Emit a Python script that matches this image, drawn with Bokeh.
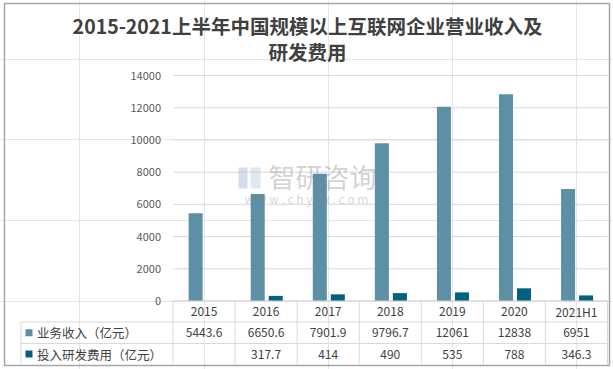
from bokeh.plotting import figure
from bokeh.models import Range1d, Label
from bokeh.embed import file_html
from bokeh.resources import INLINE
from bokeh.core.properties import value

# ---------------- data ----------------
categories = ["2015", "2016", "2017", "2018", "2019", "2020", "2021H1"]
revenue = [5443.6, 6650.6, 7901.9, 9796.7, 12061, 12838, 6951]
rnd_cost = [None, 317.7, 414, 490, 535, 788, 346.3]
series_names = ["业务收入（亿元）", "投入研发费用（亿元）"]
y_ticks = [0, 2000, 4000, 6000, 8000, 10000, 12000, 14000]
title_lines = ["2015-2021上半年中国规模以上互联网企业营业收入及", "研发费用"]

# ---------------- layout constants (canvas px) ----------------
W, H = 613, 369
col0_left = 172.5
col_w = (607.0 - 172.5) / 7
label_left = 20.5
zero_y = 300.5
top_y = 75.0
px_per_unit = (zero_y - top_y) / 14000.0
row_bounds = [300.5, 321.5, 343.0, 364.0]
row_centers = [(row_bounds[i] + row_bounds[i + 1]) / 2 for i in range(3)]

C_REV = "#5d90a7"
C_RND = "#02617f"
GRID = "#d9d9d9"
FONT_NAME = "Noto Sans CJK SC"
FONT = value(FONT_NAME)

n = len(categories)
x_start = -0.5 - col0_left / col_w
x_end = -0.5 + (W - col0_left) / col_w
y_end = zero_y / px_per_unit
y_start = -(H - zero_y) / px_per_unit
label_left_x = -0.5 - (col0_left - label_left) / col_w

p = figure(width=W, height=H, x_range=Range1d(x_start, x_end),
           y_range=Range1d(y_start, y_end), output_backend="svg",
           toolbar_location=None, x_axis_location=None, y_axis_location=None,
           min_border_left=0, min_border_right=0, min_border_top=0,
           min_border_bottom=0)
p.extra_y_ranges = {"px": Range1d(start=H, end=0)}
p.extra_x_ranges = {"px": Range1d(start=0, end=W)}
p.outline_line_color = None
p.background_fill_color = "white"
p.border_fill_color = "white"

idx = list(range(n))

# outer chart border
p.quad(left=[4], right=[609], top=[3], bottom=[365], x_range_name="px",
       y_range_name="px", fill_color=None, line_color="#a6a6a6",
       line_width=1.5)

# gridlines
p.segment(x0=[-0.5] * len(y_ticks), x1=[n - 0.5] * len(y_ticks),
          y0=y_ticks, y1=y_ticks, line_color=GRID, line_width=1)

# y tick labels
p.text(x=[-0.5] * len(y_ticks), y=y_ticks, text=[str(t) for t in y_ticks],
       x_offset=-12, text_align="right", text_baseline="middle",
       text_font=FONT, text_font_size="11px", text_color="#595959")

# bars
rnd_vals = [float("nan") if v is None else v for v in rnd_cost]
p.vbar(x=[i - 0.135 for i in idx], top=revenue, bottom=0, width=0.226,
       fill_color=C_REV, line_color=None)
p.vbar(x=[i + 0.155 for i in idx], top=rnd_vals, bottom=0, width=0.226,
       fill_color=C_RND, line_color=None)

# watermark
p.quad(left=[238, 250], right=[247, 260], top=[167, 167], bottom=[188, 188],
       x_range_name="px", y_range_name="px", fill_color=["#9fb3d6", "#b7c9de"],
       fill_alpha=0.45, line_color=None)
p.add_layout(Label(x=322, y=176, x_range_name="px", y_range_name="px",
                   text="智研咨询", text_align="center", text_baseline="middle",
                   text_font=FONT_NAME, text_font_size="27px",
                   text_color="#808080", text_alpha=0.35))
p.add_layout(Label(x=306, y=198, x_range_name="px", y_range_name="px",
                   text="w w w . c h y x x . c o m", text_align="center",
                   text_baseline="middle", text_font=FONT_NAME,
                   text_font_size="12px", text_color="#808080",
                   text_alpha=0.35))

# table lines
p.segment(x0=[-0.5, label_left_x, label_left_x],
          x1=[n - 0.5, n - 0.5, n - 0.5],
          y0=row_bounds[:3], y1=row_bounds[:3],
          y_range_name="px", line_color=GRID, line_width=1)
vx = [k - 0.5 for k in range(n + 1)] + [label_left_x]
vy0 = [row_bounds[0]] * (n + 1) + [row_bounds[1]]
p.segment(x0=vx, x1=vx, y0=vy0, y1=[row_bounds[3]] * len(vx),
          y_range_name="px", line_color=GRID, line_width=1)

# table texts
def fmt(v):
    return "" if v is None else f"{v:g}"

p.text(x=idx, y=[row_centers[0]] * n, text=categories, y_range_name="px",
       text_align="center", text_baseline="middle", text_font=FONT,
       text_font_size="12px", text_color="#404040")
p.text(x=idx, y=[row_centers[1]] * n, text=[fmt(v) for v in revenue],
       y_range_name="px", text_align="center", text_baseline="middle",
       text_font=FONT, text_font_size="12px", text_color="#404040")
p.text(x=idx, y=[row_centers[2]] * n, text=[fmt(v) for v in rnd_cost],
       y_range_name="px", text_align="center", text_baseline="middle",
       text_font=FONT, text_font_size="12px", text_color="#404040")

# row labels with colour keys
p.scatter(x=[label_left_x + 8.0 / col_w] * 2, y=row_centers[1:],
          y_range_name="px", marker="square", size=7,
          fill_color=[C_REV, C_RND], line_color=None)
p.text(x=[label_left_x] * 2, y=row_centers[1:], text=series_names,
       x_offset=16, y_range_name="px", text_align="left",
       text_baseline="middle", text_font=FONT, text_font_size="12.5px",
       text_color="#404040")

# title
for line, ty in zip(title_lines, [25, 51]):
    p.add_layout(Label(x=307, y=ty, x_range_name="px", y_range_name="px",
                       text=line, text_align="center", text_baseline="middle",
                       text_font=FONT_NAME, text_font_size="19.5px",
                       text_font_style="bold", text_color="#404040"))

open("out.html", "w").write(file_html(p, INLINE))
